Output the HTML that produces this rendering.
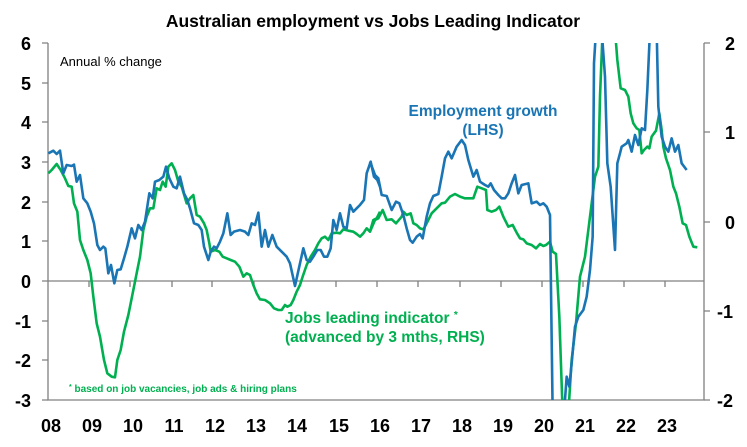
<!DOCTYPE html>
<html><head><style>
body{margin:0;background:#fff;}
svg text{font-family:"Liberation Sans",Arial,sans-serif;font-weight:bold;}
</style></head><body>
<svg width="747" height="442" viewBox="0 0 747 442" xmlns="http://www.w3.org/2000/svg">
<rect width="747" height="442" fill="#fff"/>
<text x="373" y="27" font-size="17.5" text-anchor="middle" fill="#000">Australian employment vs Jobs Leading Indicator</text>
<defs><clipPath id="c"><rect x="48" y="43" width="656" height="357"/></clipPath></defs>
<g stroke="#808080" stroke-width="1.3" fill="none">
<path d="M48,43V400H704V43"/>
<path d="M48,281H704"/>
<path d="M42,43H48M42,83H48M42,122H48M42,162H48M42,202H48M42,241H48M42,281H48M42,321H48M42,360H48M42,400H48"/>
<path d="M704,43H710M704,132H710M704,222H710M704,311H710M704,400H710"/>
<path d="M89,281V287M130,281V287M172,281V287M212,281V287M254,281V287M295,281V287M336,281V287M377,281V287M418,281V287M460,281V287M501,281V287M542,281V287M583,281V287M624,281V287M665,281V287"/>
</g>
<g font-size="18" fill="#000" text-anchor="end">
<text x="31" y="50">6</text><text x="31" y="90">5</text><text x="31" y="129">4</text><text x="31" y="169">3</text><text x="31" y="209">2</text><text x="31" y="248">1</text><text x="31" y="288">0</text><text x="31" y="328">-1</text><text x="31" y="367">-2</text><text x="31" y="407">-3</text>
</g>
<g font-size="18" fill="#000" text-anchor="start">
<text x="725" y="50">2</text><text x="725" y="139">1</text><text x="725" y="229">0</text><text x="717" y="318">-1</text><text x="717" y="407">-2</text>
</g>
<g font-size="18" fill="#000" text-anchor="middle">
<text x="51" y="432">08</text><text x="92" y="432">09</text><text x="133" y="432">10</text><text x="174" y="432">11</text><text x="215" y="432">12</text><text x="256" y="432">13</text><text x="297" y="432">14</text><text x="339" y="432">15</text><text x="380" y="432">16</text><text x="421" y="432">17</text><text x="462" y="432">18</text><text x="503" y="432">19</text><text x="544" y="432">20</text><text x="585" y="432">21</text><text x="626" y="432">22</text><text x="667" y="432">23</text>
</g>
<text x="60" y="66" font-size="13" font-weight="normal" style="font-weight:normal" fill="#000">Annual % change</text>
<g clip-path="url(#c)" fill="none" stroke-width="2.6" stroke-linejoin="round">
<polyline vector-effect="non-scaling-stroke" stroke="#00b050" transform="translate(0,30) scale(0.33333)" points="145,430 155,420 170,402 182,420 195,445 205,468 215,470 222,520 232,545 240,630 250,660 262,690 272,730 280,800 290,880 300,920 312,990 322,1030 335,1040 345,1042 352,990 362,960 372,905 385,855 395,805 408,740 420,680 430,600 440,560 450,535 460,535 470,475 480,480 488,455 497,470 505,410 515,400 525,420 535,455 545,470 560,520 570,505 580,495 590,555 600,560 612,580 620,600 628,640 632,665 645,660 658,665 668,680 680,685 692,690 705,695 718,710 730,740 740,730 750,735 760,765 770,790 780,808 795,810 810,820 822,835 835,840 845,840 855,825 862,830 872,825 880,810 890,785 900,765 908,740 920,705 932,680 945,660 955,640 965,625 975,620 985,630 995,610 1010,608 1020,610 1030,598 1045,602 1060,605 1070,612 1080,620 1090,610 1100,595 1110,605 1120,570 1130,565 1140,545"/>
<polyline vector-effect="non-scaling-stroke" stroke="#00b050" transform="translate(370,30) scale(0.33333)" points="0,605 15,570 25,565 38,540 50,570 65,568 78,580 95,560 100,545 110,555 122,550 130,580 140,585 150,595 160,598 170,580 185,550 200,535 215,520 225,518 240,500 255,492 270,500 285,505 300,505 310,505 322,470 335,475 348,480 352,540 365,545 378,540 388,530 400,560 415,590 428,585 440,608 450,625 460,628 470,640 485,645 498,655 510,642 520,648 528,645 540,635 548,665 558,672 568,860 578,1150 595,1150 605,990 618,880 630,740 645,680 655,600 665,520 675,440 685,410 690,200 698,0 735,0 742,90 752,175 765,180 775,200 782,250 790,280 800,295 808,300 815,370 822,360 832,350 838,355 845,320 852,310 858,302 868,250 875,300 880,350 888,385 900,420 910,470 918,490 928,530 938,580 948,585 958,620 970,650 982,652"/>
<polyline vector-effect="non-scaling-stroke" stroke="#1a75b5" transform="translate(0,30) scale(0.33333)" points="145,370 160,362 170,372 180,362 190,430 200,405 215,408 222,404 230,455 240,435 250,505 262,520 272,545 282,580 292,645 300,660 310,650 316,655 325,730 333,705 343,760 352,720 362,718 372,685 382,650 395,595 405,625 415,585 425,600 435,575 448,490 458,505 465,455 478,450 490,440 498,410 508,445 520,470 530,475 540,440 552,490 562,510 570,535 582,580 595,585 605,600 612,650 625,690 632,665 642,650 650,655 660,635 670,610 682,550 692,615 702,605 720,600 735,605 745,615 755,580 765,585 775,548 785,650 795,600 805,650 817,615 830,650 845,665 860,680 870,700 885,768 900,700 910,655 920,690 930,695 940,680 952,660 962,660 972,680 982,680 992,655 1000,570 1010,600 1020,550 1030,590 1040,595 1050,525 1060,545 1070,535 1080,525 1092,510 1100,430 1112,395 1122,440 1132,450 1140,470"/>
<polyline vector-effect="non-scaling-stroke" stroke="#1a75b5" transform="translate(370,30) scale(0.33333)" points="0,395 15,435 25,445 35,495 50,498 65,540 78,515 88,520 100,555 110,595 120,630 128,638 140,620 150,612 158,625 170,560 180,520 190,498 205,492 215,440 225,385 235,365 245,385 260,350 275,330 285,345 295,390 310,440 320,420 330,455 345,465 355,470 362,460 372,480 385,495 395,505 405,505 415,490 425,460 435,435 445,490 455,465 475,460 485,520 500,515 510,525 520,520 530,530 540,555 548,1150 582,1150 590,1040 598,1070 605,1000 615,890 625,860 640,840 650,800 660,720 668,620 672,100 678,0 695,0 705,140 712,400 722,470 735,660 742,400 750,370 755,350 770,340 775,330 785,365 795,315 805,345 815,295 825,300 832,180 840,0 860,0 865,230 875,320 885,350 895,365 905,325 915,365 925,345 935,400 950,420"/>
</g>
<text x="483" y="116" font-size="15.5" fill="#1a75b5" text-anchor="middle">Employment growth</text>
<text x="483" y="135" font-size="15.5" fill="#1a75b5" text-anchor="middle">(LHS)</text>
<text x="285" y="323" font-size="15.5" fill="#00b050">Jobs leading indicator <tspan font-size="10" dy="-5">*</tspan></text>
<text x="285" y="342" font-size="15.5" fill="#00b050">(advanced by 3 mths, RHS)</text>
<text x="69" y="392" font-size="10" fill="#00b050"><tspan font-size="7" dy="-3">*</tspan><tspan dy="3"> based on job vacancies, job ads &amp; hiring plans</tspan></text>
</svg>
</body></html>
